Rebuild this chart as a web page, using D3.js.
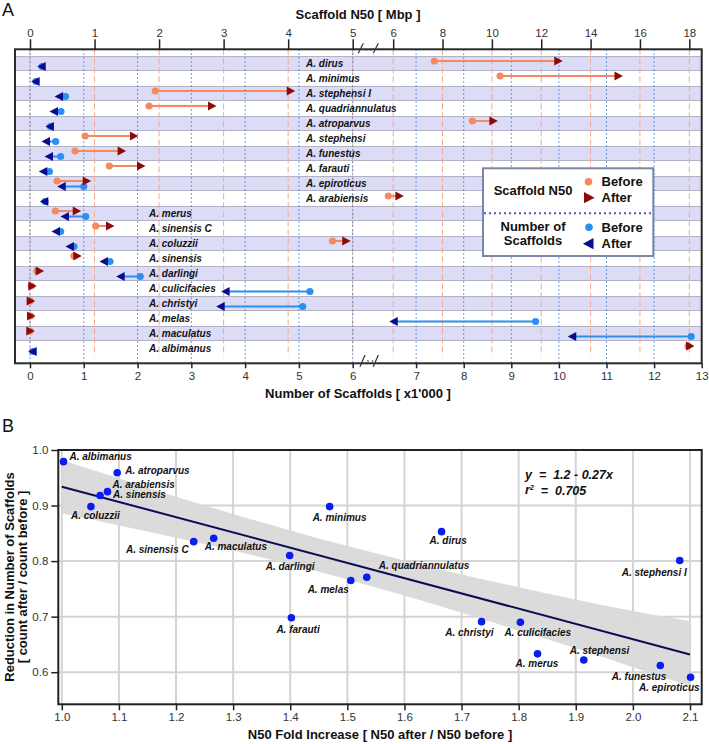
<!DOCTYPE html>
<html><head><meta charset="utf-8">
<script src="https://cdn.jsdelivr.net/npm/d3@7"></script>
<style>
body{margin:0;background:#fff}
svg{display:block;font-family:"Liberation Sans",Arial,Helvetica,sans-serif}
</style>
</head><body>
<svg id="c" width="709" height="744"></svg>
<script>
// ---------------- DATA: panel A ----------------
const speciesA = ["A. dirus","A. minimus","A. stephensi I","A. quadriannulatus","A. atroparvus","A. stephensi","A. funestus","A. farauti","A. epiroticus","A. arabiensis","A. merus","A. sinensis C","A. coluzzii","A. sinensis","A. darlingi","A. culicifacies","A. christyi","A. melas","A. maculatus","A. albimanus"];
// Scaffold N50 [Mbp]
const n50Before = [7.67,10.33,1.94,1.845,9.21,0.853,0.698,1.23,0.419,5.80,0.393,1.018,4.687,0.68,0.104,0.02,0.005,0.01,0.002,17.95];
const n50After  = [12.69,15.13,4.04,2.82,10.06,1.61,1.42,1.72,0.878,6.25,0.724,1.24,4.90,0.733,0.150,0.036,0.011,0.016,0.004,18.03];
// Number of scaffolds [x1000]
const scafBefore = [0.225,0.11,0.66,0.576,0.38,0.477,0.57,0.36,1.0,0.28,1.035,0.57,0.818,1.487,2.05,5.205,5.07,9.51,12.78,0.051];
const scafAfter  = [0.217,0.105,0.54,0.446,0.37,0.297,0.353,0.248,0.59,0.266,0.65,0.483,0.743,1.375,1.686,3.637,3.545,6.53,10.28,0.05];
const topTicksLow = [0,1,2,3,4,5];
const topTicksHigh = [6,8,10,12,14,16,18];
const botTicksLow = [0,1,2,3,4,5,6];
const botTicksHigh = [7,8,9,10,11,12,13];

// ---------------- DATA: panel B ----------------
const speciesB = ["A. albimanus","A. atroparvus","A. arabiensis","A. sinensis","A. coluzzii","A. minimus","A. sinensis C","A. maculatus","A. darlingi","A. melas","A. quadriannulatus","A. dirus","A. stephensi I","A. farauti","A. christyi","A. culicifacies","A. merus","A. stephensi","A. funestus","A. epiroticus"];
const foldIncrease = [1.003,1.097,1.080,1.067,1.051,1.469,1.231,1.266,1.399,1.506,1.534,1.665,2.082,1.402,1.735,1.803,1.833,1.914,2.048,2.101];
const reduction    = [0.979,0.959,0.925,0.918,0.898,0.898,0.835,0.841,0.810,0.765,0.771,0.853,0.801,0.698,0.691,0.690,0.633,0.622,0.612,0.591];
const bandX     = [1.0,1.1,1.2,1.3,1.4,1.5,1.6,1.7,1.8,1.9,2.0,2.1];
const bandUpper = [0.982,0.949,0.916,0.885,0.855,0.827,0.801,0.776,0.753,0.731,0.710,0.692];
const bandLower = [0.886,0.864,0.842,0.819,0.794,0.767,0.738,0.707,0.675,0.643,0.609,0.575];
const fitX = [1.0,2.1];
const fitY = [0.934,0.632];
const xTicksB = [1.0,1.1,1.2,1.3,1.4,1.5,1.6,1.7,1.8,1.9,2.0,2.1];
const yTicksB = [0.6,0.7,0.8,0.9,1.0];

// ---------------- layout (not data) ----------------
const labelPos = { // dx, dy, anchor
 "A. albimanus":[6,-5,"start"],"A. atroparvus":[8,-2,"start"],"A. arabiensis":[5,-7,"start"],
 "A. sinensis":[13,-1,"start"],"A. coluzzii":[-20,9,"start"],"A. minimus":[-17,11,"start"],
 "A. sinensis C":[-5,8,"end"],"A. maculatus":[-9,8,"start"],"A. darlingi":[-24,11,"start"],
 "A. melas":[-2,9,"end"],"A. quadriannulatus":[12,-12,"start"],"A. dirus":[-12,9,"start"],
 "A. stephensi I":[7,12,"end"],"A. farauti":[-15,12,"start"],"A. christyi":[12,11,"end"],
 "A. culicifacies":[-16,10,"start"],"A. merus":[-22,10,"start"],"A. stephensi":[-14,-10,"start"],
 "A. funestus":[6,11,"end"],"A. epiroticus":[9,10,"end"]
};

const svg = d3.select("#c");
const C = {salmon:"#f58a62", dred:"#8b0b0b", blue:"#2b8ff0", navy:"#0b0b8f"};
const triR = "M-4,-4.5L4.5,0L-4,4.5Z";
const triL = "M4,-4.5L-4.5,0L4,4.5Z";

// ================= PANEL A =================
const A = {left:15, right:701.7, top:49.3, bottom:363.3};
const xTopA = d3.scaleLinear().domain([0,5]).range([30,352.7]);
const xTopB = d3.scaleLinear().domain([5,18]).range([368.5,689.3]);
const xTop = v => v <= 5 ? xTopA(v) : xTopB(v);
const xBotA = d3.scaleLinear().domain([0,6]).range([30,352.7]);
const xBotB = d3.scaleLinear().domain([6,13]).range([368.5,701.7]);
const xBot = v => v <= 6 ? xBotA(v) : xBotB(v);
const rowS = d3.scaleBand().domain(speciesA).range([56,356]);
const rc = s => rowS(s) + rowS.bandwidth()/2;

const gA = svg.append("g");
const lav = speciesA.filter((d,i)=>i%2===0);
gA.selectAll("rect.band").data(lav).join("rect")
  .attr("x",A.left).attr("width",A.right-A.left)
  .attr("y",d=>rowS(d)).attr("height",rowS.bandwidth())
  .attr("fill","#dcdcf7");
gA.selectAll("line.bt").data(lav).join("line")
  .attr("x1",A.left).attr("x2",A.right).attr("y1",d=>rowS(d)+0.5).attr("y2",d=>rowS(d)+0.5)
  .attr("stroke","#b2b2c6").attr("stroke-width",1);
gA.selectAll("line.bb").data(lav).join("line")
  .attr("x1",A.left).attr("x2",A.right).attr("y1",d=>rowS(d)+rowS.bandwidth()-0.5).attr("y2",d=>rowS(d)+rowS.bandwidth()-0.5)
  .attr("stroke","#b2b2c6").attr("stroke-width",1);

// gridlines
gA.selectAll("line.gs").data(topTicksLow.concat(topTicksHigh)).join("line")
  .attr("x1",d=>xTop(d)).attr("x2",d=>xTop(d)).attr("y1",A.top).attr("y2",356)
  .attr("stroke","#f4a98c").attr("stroke-width",1).attr("stroke-dasharray","6,3");
gA.selectAll("line.gb").data(botTicksLow.concat(botTicksHigh).filter(d=>d<13)).join("line")
  .attr("x1",d=>xBot(d)).attr("x2",d=>xBot(d)).attr("y1",A.top).attr("y2",A.bottom)
  .attr("stroke","#3d7fd9").attr("stroke-width",1).attr("stroke-dasharray","1.5,2.5");

// frame
gA.append("rect").attr("x",A.left).attr("y",A.top).attr("width",A.right-A.left).attr("height",A.bottom-A.top)
  .attr("fill","none").attr("stroke","#2a2a2a").attr("stroke-width",2);

// species labels
gA.selectAll("text.sp").data(speciesA).join("text")
  .attr("x",(d,i)=> i<10 ? 306 : 149).attr("y",d=>rc(d)).attr("dy","0.36em")
  .attr("font-size",10).attr("font-weight","bold").attr("font-style","italic").attr("fill","#111")
  .text(d=>d);

// connecting lines
const idx = d3.range(speciesA.length);
gA.selectAll("line.ln").data(idx).join("line")
  .attr("x1",i=>xTop(n50Before[i])).attr("x2",i=>xTop(n50After[i]))
  .attr("y1",i=>rc(speciesA[i])-2.5).attr("y2",i=>rc(speciesA[i])-2.5)
  .attr("stroke",C.salmon).attr("stroke-width",2);
gA.selectAll("line.ls").data(idx).join("line")
  .attr("x1",i=>xBot(scafBefore[i])).attr("x2",i=>xBot(scafAfter[i]))
  .attr("y1",i=>rc(speciesA[i])+3).attr("y2",i=>rc(speciesA[i])+3)
  .attr("stroke",C.blue).attr("stroke-width",2);
gA.selectAll("circle.nb").data(idx).join("circle")
  .attr("cx",i=>xTop(n50Before[i])).attr("cy",i=>rc(speciesA[i])-2.5).attr("r",3.6).attr("fill",C.salmon);
gA.selectAll("circle.sb").data(idx).join("circle")
  .attr("cx",i=>xBot(scafBefore[i])).attr("cy",i=>rc(speciesA[i])+3).attr("r",3.6).attr("fill",C.blue);
gA.selectAll("path.na").data(idx).join("path")
  .attr("transform",i=>`translate(${xTop(n50After[i])},${rc(speciesA[i])-2.5})`).attr("d",triR).attr("fill",C.dred);
gA.selectAll("path.sa").data(idx).join("path")
  .attr("transform",i=>`translate(${xBot(scafAfter[i])},${rc(speciesA[i])+3})`).attr("d",triL).attr("fill",C.navy);

// axes
function styleAxis(g){
  g.select(".domain").remove();
  g.selectAll(".tick line").attr("stroke","#222").attr("stroke-width",1.5);
  g.selectAll(".tick text").attr("font-size",11.5).attr("fill","#333").attr("font-family","'Liberation Sans',Arial,sans-serif");
}
gA.append("g").attr("transform",`translate(0,${A.top})`)
  .call(d3.axisTop(xTopA).tickValues(topTicksLow).tickSize(10).tickPadding(2).tickFormat(d3.format("d"))).call(styleAxis);
gA.append("g").attr("transform",`translate(0,${A.top})`)
  .call(d3.axisTop(xTopB).tickValues(topTicksHigh).tickSize(10).tickPadding(2).tickFormat(d3.format("d"))).call(styleAxis);
gA.append("g").attr("transform",`translate(0,${A.bottom})`)
  .call(d3.axisBottom(xBotA).tickValues(botTicksLow).tickSize(5).tickPadding(4).tickFormat(d3.format("d"))).call(styleAxis);
gA.append("g").attr("transform",`translate(0,${A.bottom})`)
  .call(d3.axisBottom(xBotB).tickValues(botTicksHigh).tickSize(5).tickPadding(4).tickFormat(d3.format("d"))).call(styleAxis);

// break marks
function breakMark(y0, y1, xs, dotY){
  const g = gA.append("g").attr("stroke","#333").attr("stroke-width",1.2);
  xs.forEach(x=>g.append("line").attr("x1",x).attr("y1",y0).attr("x2",x+5).attr("y2",y1));
  [0,1].forEach(k=>gA.append("circle").attr("cx",xs[0]+8+k*4.5).attr("cy",dotY).attr("r",0.8).attr("fill","#333"));
}
breakMark(53.3,43.3,[358.3,373.3],50);
breakMark(366.7,355,[360,373.3],361);

// titles
svg.append("text").attr("x",358).attr("y",14).attr("dy","0.35em").attr("text-anchor","middle")
  .attr("font-size",13).attr("font-weight","bold").attr("fill","#111").text("Scaffold N50 [ Mbp ]");
svg.append("text").attr("x",358).attr("y",393).attr("dy","0.35em").attr("text-anchor","middle")
  .attr("font-size",13).attr("font-weight","bold").attr("fill","#111").text("Number of Scaffolds [ x1'000 ]");
svg.append("text").attr("x",2).attr("y",16).attr("font-size",18).attr("fill","#111").text("A");
svg.append("text").attr("x",2).attr("y",432).attr("font-size",18).attr("fill","#111").text("B");

// legend
const L = svg.append("g");
L.append("rect").attr("x",483).attr("y",168.3).attr("width",170.3).attr("height",87.7)
  .attr("fill","#fff").attr("stroke","#7b86a8").attr("stroke-width",2);
L.append("line").attr("x1",484).attr("x2",652).attr("y1",213.3).attr("y2",213.3)
  .attr("stroke","#4d5cab").attr("stroke-width",2).attr("stroke-dasharray","2,3");
const lt = (x,y,t,anchor)=>L.append("text").attr("x",x).attr("y",y).attr("dy","0.35em")
  .attr("text-anchor",anchor).attr("font-size",13).attr("font-weight","bold").attr("fill","#111").text(t);
lt(533,190.7,"Scaffold N50","middle");
lt(533,226.3,"Number of","middle");
lt(533,240.5,"Scaffolds","middle");
lt(601.5,181.7,"Before","start");
lt(601.5,197.7,"After","start");
lt(601.5,227.3,"Before","start");
lt(601.5,243.7,"After","start");
L.append("circle").attr("cx",588.5).attr("cy",181.7).attr("r",3.8).attr("fill",C.salmon);
L.append("circle").attr("cx",589).attr("cy",227.3).attr("r",3.8).attr("fill",C.blue);
L.append("path").attr("transform","translate(589,197.7) scale(1.25)").attr("d",triR).attr("fill",C.dred);
L.append("path").attr("transform","translate(588.5,243.7) scale(1.25)").attr("d",triL).attr("fill",C.navy);

// ================= PANEL B =================
const B = {left:58.3, right:701.7, top:450, bottom:704.3};
const xB = d3.scaleLinear().domain([1,2.1]).range([61.8,690]);
const yB = d3.scaleLinear().domain([0.6,1.0]).range([672.2,450]);
const gB = svg.append("g");
gB.selectAll("line.gx").data(xTicksB).join("line")
  .attr("x1",d=>xB(d)).attr("x2",d=>xB(d)).attr("y1",B.top).attr("y2",B.bottom)
  .attr("stroke","#d4d4d4").attr("stroke-width",2);
gB.selectAll("line.gy").data(yTicksB).join("line")
  .attr("x1",B.left).attr("x2",B.right).attr("y1",d=>yB(d)).attr("y2",d=>yB(d))
  .attr("stroke","#d4d4d4").attr("stroke-width",2);
const bandData = bandX.map((x,i)=>({x, u:bandUpper[i], l:bandLower[i]}));
gB.append("path").datum(bandData)
  .attr("d", d3.area().x(d=>xB(d.x)).y0(d=>yB(d.l)).y1(d=>yB(d.u)).curve(d3.curveMonotoneX))
  .attr("fill","#d9d9d9").attr("opacity",0.95);
gB.append("path").datum(fitX.map((x,i)=>[x,fitY[i]]))
  .attr("d", d3.line().x(d=>xB(d[0])).y(d=>yB(d[1])))
  .attr("stroke","#0c0c55").attr("stroke-width",2).attr("fill","none");
gB.append("rect").attr("x",B.left).attr("y",B.top).attr("width",B.right-B.left).attr("height",B.bottom-B.top)
  .attr("fill","none").attr("stroke","#222").attr("stroke-width",2);
gB.selectAll("circle.pt").data(speciesB).join("circle")
  .attr("cx",(d,i)=>xB(foldIncrease[i])).attr("cy",(d,i)=>yB(reduction[i])).attr("r",3.8).attr("fill","#0a1cf2");
gB.selectAll("text.pl").data(speciesB).join("text")
  .attr("x",(d,i)=>xB(foldIncrease[i])+labelPos[d][0]).attr("y",(d,i)=>yB(reduction[i])+labelPos[d][1])
  .attr("dy","0.36em").attr("text-anchor",d=>labelPos[d][2])
  .attr("font-size",10).attr("font-weight","bold").attr("font-style","italic").attr("fill","#111").text(d=>d);

gB.append("g").attr("transform",`translate(${B.left},0)`)
  .call(d3.axisLeft(yB).tickValues(yTicksB).tickSize(7).tickPadding(3).tickFormat(d3.format(".1f"))).call(styleAxis);
gB.append("g").attr("transform",`translate(0,${B.bottom})`)
  .call(d3.axisBottom(xB).tickValues(xTicksB).tickSize(6).tickPadding(3).tickFormat(d3.format(".1f"))).call(styleAxis);

// equation
gB.append("text").attr("x",525).attr("y",475).attr("dy","0.35em").attr("font-size",12.5)
  .attr("font-weight","bold").attr("font-style","italic").attr("fill","#111").style("white-space","pre")
  .text("y  =  1.2 - 0.27x");
const eq2 = gB.append("text").attr("x",525).attr("y",489.5).attr("dy","0.35em").attr("font-size",12.5)
  .attr("font-weight","bold").attr("font-style","italic").attr("fill","#111").style("white-space","pre");
eq2.append("tspan").text("r");
eq2.append("tspan").attr("font-size",7).attr("dy","-0.6em").text("2");
eq2.append("tspan").attr("dy","0.42em").text("  =  0.705");

// axis titles
svg.append("text").attr("x",380).attr("y",734).attr("dy","0.35em").attr("text-anchor","middle")
  .attr("font-size",13).attr("font-weight","bold").attr("fill","#111").text("N50 Fold Increase [ N50 after / N50 before ]");
const yt = svg.append("text").attr("transform","translate(9,577) rotate(-90)").attr("text-anchor","middle")
  .attr("font-size",13).attr("font-weight","bold").attr("fill","#111");
yt.append("tspan").attr("x",0).attr("dy","0.35em").text("Reduction in Number of Scaffolds");
yt.append("tspan").attr("x",0).attr("dy","1.0em").text("[ count after / count before ]");
</script>
</body></html>
